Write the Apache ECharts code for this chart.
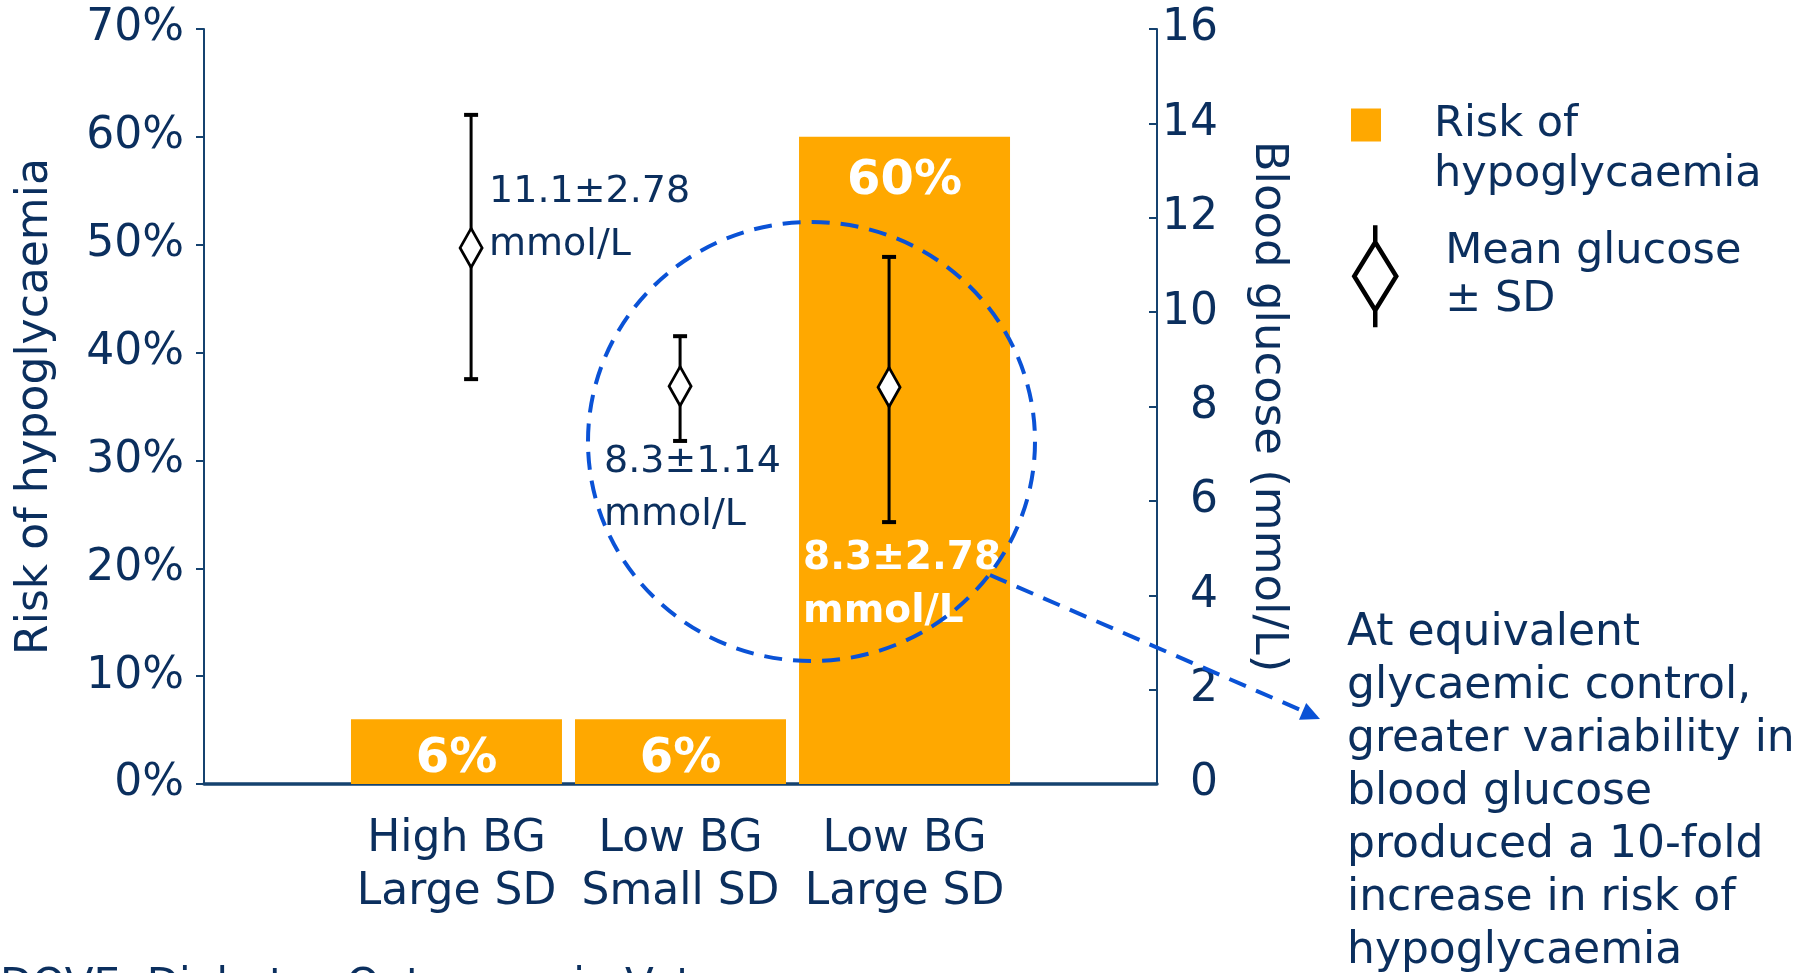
<!DOCTYPE html>
<html>
<head>
<meta charset="utf-8">
<script src="https://cdn.jsdelivr.net/npm/echarts@6/dist/echarts.min.js"></script>
<style>html,body{margin:0;padding:0;background:#fff}#c{width:1816px;height:973px}</style>
</head>
<body>
<div id="c"></div>
<script>
// ---- data ----
const categories = ['High BG\nLarge SD', 'Low BG\nSmall SD', 'Low BG\nLarge SD'];
const categoryPos = [1, 2, 3];
const riskPct = [6, 6, 60];
const glucoseMean = [11.36, 8.43, 8.41];
const glucoseLow = [8.58, 7.27, 5.55];
const glucoseHigh = [14.18, 9.49, 11.17];
const glucoseNotes = ['11.1±2.78\nmmol/L', '8.3±1.14\nmmol/L', '8.3±2.78\nmmol/L'];
const seriesNames = ['Risk of hypoglycaemia', 'Mean glucose ± SD'];
const legendLabels = ['Risk of\nhypoglycaemia', 'Mean glucose\n± SD'];
const axisNames = ['Risk of hypoglycaemia', 'Blood glucose (mmol/L)'];
const noteLines = ['At equivalent', 'glycaemic control,', 'greater variability in', 'blood glucose', 'produced a 10-fold', 'increase in risk of', 'hypoglycaemia'];
const sourceText = 'DOVE, Diabetes Outcomes in Veterans';

// ---- styles ----
const FONT = 'DejaVu Sans, Verdana, sans-serif';
const NAVY = '#0B2F5E';
const AXIS = '#15426F';
const ORANGE = '#FFA800';
const BLUE = '#0A52D6';
const noteLabelStyles = [
  {offset: [18, -29], color: NAVY, fontWeight: 'normal', fontSize: 38},
  {offset: [-76, 102], color: NAVY, fontWeight: 'normal', fontSize: 38},
  {offset: [-86, 198], color: '#ffffff', fontWeight: 'bold', fontSize: 39}
];

const chart = echarts.init(document.getElementById('c'), null, {renderer: 'canvas'});

const barData = riskPct.map((v, i) => ({
  value: [categoryPos[i], v],
  label: v > 30 ? {position: 'insideTop', distance: 21} : {position: 'insideBottom', distance: 0}
}));
const meanData = glucoseMean.map((v, i) => ({
  value: [categoryPos[i], v],
  label: Object.assign({}, noteLabelStyles[i])
}));
const errData = categoryPos.map((p, i) => [p, glucoseLow[i], glucoseHigh[i]]);

const option = {
  animation: false,
  textStyle: {fontFamily: FONT},
  grid: {left: 204, right: 659, top: 29, bottom: 189, containLabel: false, outerBoundsMode: 'none'},
  legend: [
    {
      left: 1351, top: 100, orient: 'vertical', padding: 0, selectedMode: false,
      itemWidth: 30, itemHeight: 83,
      data: [{name: seriesNames[0], icon: 'path://M0,0L30,0L30,33L0,33ZM0,83L0.01,83', itemStyle: {color: ORANGE, borderWidth: 0}}],
      formatter: () => legendLabels[0],
      textStyle: {fontSize: 43, lineHeight: 50, color: NAVY, fontFamily: FONT, padding: [0, 0, 0, 48]}
    },
    {
      left: 1352, top: 223, orient: 'vertical', padding: 0, selectedMode: false,
      itemWidth: 42, itemHeight: 102,
      data: [{
        name: seriesNames[1],
        icon: 'path://M21,0L21,17L42,51L21,85L21,102M21,85L0,51L21,17',
        itemStyle: {color: '#ffffff', borderColor: '#000000', borderWidth: 4.5}
      }],
      formatter: () => legendLabels[1],
      textStyle: {fontSize: 43, lineHeight: 48, color: NAVY, fontFamily: FONT, padding: [0, 0, 0, 44]}
    }
  ],
  xAxis: [
    {
      type: 'value', min: -0.127, max: 4.127, position: 'bottom',
      axisLine: {show: true, onZero: false, lineStyle: {color: AXIS, width: 3.5}},
      axisTick: {show: false}, splitLine: {show: false},
      axisLabel: {
        customValues: categoryPos,
        formatter: (v) => categories[Math.round(v) - 1] || '',
        fontSize: 44, lineHeight: 53, color: NAVY, margin: 29, fontFamily: FONT
      }
    },
    {type: 'value', min: -0.278, max: 4.282, show: false}
  ],
  yAxis: [
    {
      type: 'value', min: 0, max: 70, interval: 10, position: 'left',
      name: axisNames[0], nameLocation: 'middle', nameGap: 146,
      nameTextStyle: {fontSize: 44, color: NAVY, fontFamily: FONT},
      axisLine: {show: true, onZero: false, lineStyle: {color: AXIS, width: 2}},
      axisTick: {show: true, length: 8, lineStyle: {color: AXIS, width: 2}},
      axisLabel: {formatter: '{value}%', fontSize: 44, color: NAVY, margin: 20, fontFamily: FONT},
      splitLine: {show: false}
    },
    {
      type: 'value', min: 0, max: 16, interval: 2, position: 'right',
      name: axisNames[1], nameLocation: 'middle', nameGap: 88, nameRotate: -90,
      nameTextStyle: {fontSize: 45, color: NAVY, fontFamily: FONT},
      axisLine: {show: true, onZero: false, lineStyle: {color: AXIS, width: 2}},
      axisTick: {show: true, inside: true, length: 8, lineStyle: {color: AXIS, width: 2}},
      axisLabel: {fontSize: 44, color: NAVY, margin: 61, align: 'right', fontFamily: FONT},
      splitLine: {show: false}
    }
  ],
  series: [
    {
      name: seriesNames[0], type: 'bar', xAxisIndex: 0, yAxisIndex: 0,
      barWidth: 211, itemStyle: {color: ORANGE},
      label: {
        show: true, color: '#ffffff', fontSize: 48, fontWeight: 'bold', fontFamily: FONT,
        formatter: (p) => p.value[1] + '%'
      },
      data: barData
    },
    {
      name: 'SD', type: 'custom', xAxisIndex: 1, yAxisIndex: 1, z: 3,
      renderItem: (params, api) => {
        const x = api.value(0);
        const lo = api.coord([x, api.value(1)]);
        const hi = api.coord([x, api.value(2)]);
        const cap = 7;
        const st = {stroke: '#000000', lineWidth: 3};
        return {
          type: 'group',
          children: [
            {type: 'line', shape: {x1: lo[0], y1: lo[1], x2: hi[0], y2: hi[1]}, style: st},
            {type: 'line', shape: {x1: lo[0] - cap, y1: lo[1], x2: lo[0] + cap, y2: lo[1]}, style: {stroke: '#000', lineWidth: 4}},
            {type: 'line', shape: {x1: hi[0] - cap, y1: hi[1], x2: hi[0] + cap, y2: hi[1]}, style: {stroke: '#000', lineWidth: 4}}
          ]
        };
      },
      data: errData
    },
    {
      name: seriesNames[1], type: 'scatter', xAxisIndex: 1, yAxisIndex: 1, z: 4,
      symbol: 'diamond', symbolSize: [22, 39],
      itemStyle: {color: '#ffffff', borderColor: '#000000', borderWidth: 3, opacity: 1},
      label: {
        show: true, position: 'inside', align: 'left', verticalAlign: 'middle',
        lineHeight: 53, fontFamily: FONT,
        formatter: (p) => glucoseNotes[p.dataIndex]
      },
      data: meanData
    }
  ],
  graphic: [
    {type: 'ellipse', z: 100, silent: true,
     shape: {cx: 811.5, cy: 441.5, rx: 223.5, ry: 219.5},
     style: {fill: null, stroke: BLUE, lineWidth: 4, lineDash: [18, 11]}},
    {type: 'line', z: 100, silent: true,
     shape: {x1: 990, y1: 575, x2: 1303, y2: 711},
     style: {stroke: BLUE, lineWidth: 4, lineDash: [18, 11]}},
    {type: 'polygon', z: 100, silent: true,
     shape: {points: [[1320, 719], [1299, 719.7], [1306.2, 703.1]]},
     style: {fill: BLUE}},
    {type: 'text', left: 1347, top: 607, z: 100,
     style: {text: noteLines.join('\n'), fontSize: 44, lineHeight: 53, fill: NAVY, fontFamily: FONT}},
    {type: 'text', left: 0, top: 966, z: 100,
     style: {text: sourceText, fontSize: 42, fill: NAVY, fontFamily: FONT}}
  ]
};
chart.setOption(option);
</script>
</body>
</html>
